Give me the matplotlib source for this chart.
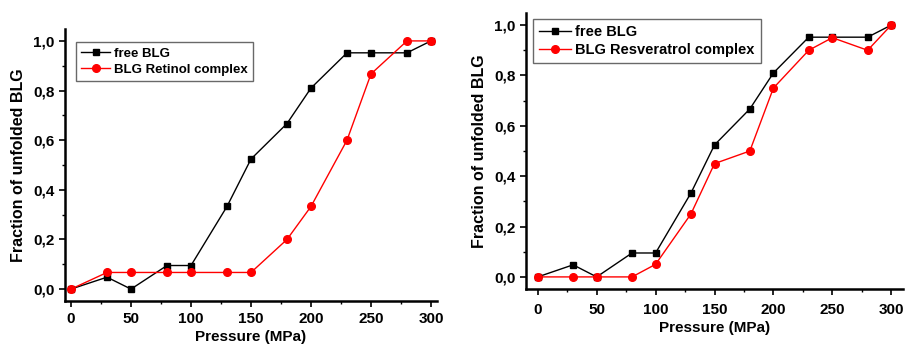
import matplotlib.pyplot as plt
from matplotlib.ticker import MultipleLocator, FuncFormatter

plt.rcParams['font.family'] = ['Liberation Sans', 'DejaVu Sans']
plt.rcParams['font.weight'] = 'bold'

pressure = [0, 30, 50, 80, 100, 130, 150, 180, 200, 230, 250, 280, 300]
free_blg = [0, 0.048, 0, 0.095, 0.095, 0.333, 0.524, 0.667, 0.81, 0.952, 0.952, 0.952, 1.0]
retinol = [0, 0.067, 0.067, 0.067, 0.067, 0.067, 0.067, 0.2, 0.333, 0.6, 0.867, 1.0, 1.0]
resveratrol = [0, 0, 0, 0, 0.05, 0.25, 0.45, 0.5, 0.75, 0.9, 0.95, 0.9, 1.0]

W, H = 906, 345
fig = plt.figure(figsize=(W / 100, H / 100), dpi=100)


def comma(v, pos):
    return ("%.1f" % v).replace(".", ",")


def setup(ax, xlim, fs_leg, label2, leg_anchor, xpad):
    ax.plot(pressure, free_blg, color="black", marker="s", markersize=5, lw=1, label="free BLG")
    ax.plot(pressure, label2[1], color="red", marker="o", markersize=5.5, lw=1, label=label2[0])
    ax.set_xlim(*xlim)
    ax.set_ylim(-0.048, 1.048)
    for s in ["top", "right"]:
        ax.spines[s].set_visible(False)
    ax.spines["left"].set_linewidth(1.8)
    ax.spines["bottom"].set_linewidth(1.8)
    ax.xaxis.set_major_locator(MultipleLocator(50))
    ax.xaxis.set_minor_locator(MultipleLocator(25))
    ax.yaxis.set_major_locator(MultipleLocator(0.2))
    ax.yaxis.set_minor_locator(MultipleLocator(0.1))
    ax.yaxis.set_major_formatter(FuncFormatter(comma))
    ax.tick_params(which="major", direction="out", length=4, width=1.2, labelsize=11)
    ax.tick_params(axis="x", which="major", pad=xpad)
    ax.tick_params(which="minor", direction="out", length=2.5, width=1)
    ax.set_xlabel("Pressure (MPa)", fontsize=11, fontweight="bold", labelpad=3)
    ax.set_ylabel("Fraction of unfolded BLG", fontsize=11.5, fontweight="bold", labelpad=5)
    leg = ax.legend(loc="upper left", fontsize=fs_leg, frameon=True, fancybox=False,
                    edgecolor="#444444", borderpad=0.4, handlelength=2.2,
                    handletextpad=0.3, labelspacing=0.3, borderaxespad=0,
                    bbox_to_anchor=leg_anchor)
    leg.get_frame().set_linewidth(1)
    for t in leg.get_texts():
        t.set_fontweight("bold")


ax1 = fig.add_axes([65 / W, (H - 301) / H, (437 - 65) / W, (301 - 29) / H])
setup(ax1, (-5, 305), 9.5, ("BLG Retinol complex", retinol), (0.03, 0.952), 4)

ax2 = fig.add_axes([526 / W, (H - 289) / H, (903 - 526) / W, (289 - 13) / H])
setup(ax2, (-10, 310), 10.5, ("BLG Resveratrol complex", resveratrol), (0.019, 0.978), 6)

fig.savefig("out.png", dpi=100)
